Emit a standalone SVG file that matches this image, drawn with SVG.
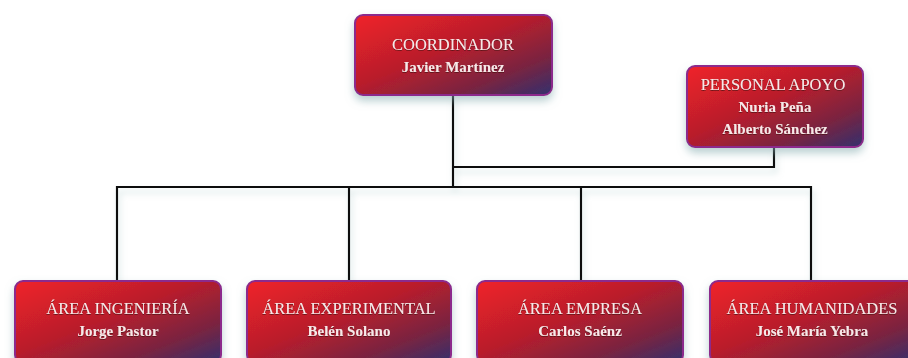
<svg xmlns="http://www.w3.org/2000/svg" width="908" height="358" viewBox="0 0 908 358">
<defs>
<linearGradient id="g" x1="0" y1="0" x2="1" y2="1">
<stop offset="0" stop-color="#f0222a"/>
<stop offset="0.45" stop-color="#b81e2c"/>
<stop offset="0.75" stop-color="#7a2440"/>
<stop offset="1" stop-color="#33306e"/>
</linearGradient>
<filter id="sh" x="-20%" y="-20%" width="140%" height="150%">
<feDropShadow dx="0" dy="5" stdDeviation="4" flood-color="#7fa9aa" flood-opacity="0.55"/>
</filter>
<filter id="lsh" x="-5%" y="-50%" width="110%" height="200%">
<feDropShadow dx="2" dy="5" stdDeviation="3" flood-color="#9cc0c0" flood-opacity="0.5"/>
</filter>
<filter id="tsh">
<feDropShadow dx="0" dy="1" stdDeviation="0.6" flood-color="#4a0a14" flood-opacity="0.7"/>
</filter>
</defs>
<style>
.box{fill:url(#g);stroke:#8c2a8c;stroke-width:2;filter:url(#sh)}
.t{font-family:"Liberation Serif","Times New Roman",serif;font-size:16.5px;fill:#f8e8e8;text-anchor:middle;filter:url(#tsh)}
.b{font-weight:bold;font-size:15px}
.ln{fill:none;stroke:#111;stroke-width:2.2}
</style>
<rect width="908" height="358" fill="#fff"/>
<g id="connectors" filter="url(#lsh)">
<path class="ln" d="M453 95 V187"/>
<path class="ln" d="M774 147 V167 H453"/>
<path class="ln" d="M117 281 V187 H811 V281"/>
<path class="ln" d="M349 187 V281"/>
<path class="ln" d="M581 187 V281"/>
</g>
<g id="coordinador">
<rect class="box" x="355" y="15" width="197" height="80" rx="8"/>
<text class="t" x="453" y="50">COORDINADOR</text>
<text class="t b" x="453" y="72">Javier Martínez</text>
</g>
<g id="personal-apoyo">
<rect class="box" x="687" y="66" width="176" height="81" rx="8"/>
<text class="t" x="773" y="90">PERSONAL APOYO</text>
<text class="t b" x="775" y="112">Nuria Peña</text>
<text class="t b" x="775" y="134">Alberto Sánchez</text>
</g>
<g id="area-ingenieria">
<rect class="box" x="15" y="281" width="206" height="82" rx="8"/>
<text class="t" x="118" y="314">ÁREA INGENIERÍA</text>
<text class="t b" x="118" y="336">Jorge Pastor</text>
</g>
<g id="area-experimental">
<rect class="box" x="247" y="281" width="204" height="82" rx="8"/>
<text class="t" x="349" y="314">ÁREA EXPERIMENTAL</text>
<text class="t b" x="349" y="336">Belén Solano</text>
</g>
<g id="area-empresa">
<rect class="box" x="477" y="281" width="206" height="82" rx="8"/>
<text class="t" x="580" y="314">ÁREA EMPRESA</text>
<text class="t b" x="580" y="336">Carlos Saénz</text>
</g>
<g id="area-humanidades">
<rect class="box" x="710" y="281" width="206" height="82" rx="8"/>
<text class="t" x="812" y="314">ÁREA HUMANIDADES</text>
<text class="t b" x="812" y="336">José María Yebra</text>
</g>
</svg>
